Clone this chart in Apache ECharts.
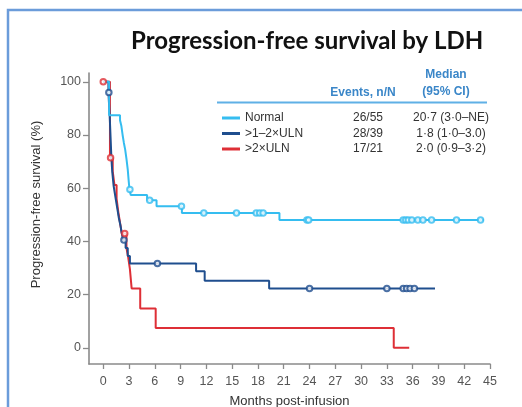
<!DOCTYPE html>
<html>
<head>
<meta charset="utf-8">
<script src="https://cdn.jsdelivr.net/npm/echarts@6/dist/echarts.min.js"></script>
<style>
html,body{margin:0;padding:0;background:#fff;}
#chart{width:522px;height:407px;}
</style>
</head>
<body>
<div id="chart"></div>
<script>
// ---- Data ----
const seriesNames = ['Normal', '>1–2×ULN', '>2×ULN'];
const eventsText = ['26/55', '28/39', '17/21'];
const medianText = ['20·7 (3·0–NE)', '1·8 (1·0–3.0)', '2·0 (0·9–3·2)'];

// Kaplan-Meier steps: time (months) where survival (%) becomes the given value
const normalTimes = [0, 0.68, 1.95, 2.1, 2.25, 2.4, 2.55, 2.7, 2.85, 2.95, 3.05, 3.2, 5.1, 6.2, 9.15, 20.5];
const normalSurv  = [100, 87.4, 85.5, 83.5, 80, 77, 74.5, 71, 67, 63, 59.5, 57.4, 55.5, 53.2, 50.7, 48];
const normalEnd = 44.3;
const normalCensor = [3.1, 5.4, 9.1, 11.7, 15.5, 17.8, 18.2, 18.6, 23.7, 23.9, 34.9, 35.2, 35.5, 35.9, 36.6, 37.2, 38.2, 41.1, 43.9];

const midTimes = [0, 0.6, 0.75, 0.85, 0.95, 1.05, 1.2, 1.35, 1.5, 1.65, 1.8, 2.0, 2.15, 2.3, 2.6, 2.85, 3.1, 10.8, 11.8, 19.3];
const midSurv  = [100, 96, 87, 79, 71, 66, 61, 58, 55, 52, 49, 46, 43, 40.5, 37.5, 34.5, 31.7, 28.8, 25.2, 22.3];
const midEnd = 38.6;
const midCensor = [0.65, 2.4, 6.3, 24.0, 33.0, 34.9, 35.3, 35.7, 36.2];

const highTimes = [0, 0.78, 1.1, 1.3, 1.55, 1.75, 1.95, 2.15, 2.7, 2.9, 3.1, 3.3, 4.3, 6.1, 33.8];
const highSurv  = [100, 71.4, 66.3, 61.2, 56.1, 51, 47, 43, 37.5, 34, 29.6, 22.3, 14.8, 7.4, 0];
const highEnd = 35.6;
const highCensor = [0, 0.85, 2.5];

const xTicks = [0, 3, 6, 9, 12, 15, 18, 21, 24, 27, 30, 33, 36, 39, 42, 45];
const yTicks = [0, 20, 40, 60, 80, 100];

const colors = ['#35bdf0', '#1f4e8e', '#de2f36'];

// ---- Helpers ----
function stepData(ts, ss, end) {
  const d = ts.map((t, i) => [t, ss[i]]);
  d.push([end, ss[ss.length - 1]]);
  return d;
}
function survAt(ts, ss, t) {
  let v = ss[0];
  for (let i = 0; i < ts.length; i++) { if (ts[i] <= t) v = ss[i]; }
  return v;
}
function censorData(ts, ss, cs) {
  return cs.map(t => [t, survAt(ts, ss, t)]);
}

const curves = [
  [normalTimes, normalSurv, normalEnd, normalCensor],
  [midTimes, midSurv, midEnd, midCensor],
  [highTimes, highSurv, highEnd, highCensor]
];

const series = [];
curves.forEach((c, i) => {
  series.push({
    name: seriesNames[i], type: 'line', step: 'end', showSymbol: false, symbol: 'none',
    data: stepData(c[0], c[1], c[2]),
    lineStyle: { color: colors[i], width: 2 }, itemStyle: { color: colors[i] },
    z: 3 - i + 2, animation: false
  });
});
curves.forEach((c, i) => {
  series.push({
    name: seriesNames[i] + ' censored', type: 'scatter',
    symbol: 'emptyCircle', symbolSize: 5.5,
    data: censorData(c[0], c[1], c[3]),
    itemStyle: { color: colors[i], borderColor: colors[i], borderWidth: 1.2, opacity: 0.8 },
    z: 6, animation: false
  });
});

const chart = echarts.init(document.getElementById('chart'), null, { renderer: 'canvas' });
const fontFam = '"Liberation Sans", Arial, sans-serif';
chart.setOption({
  animation: false,
  title: {
    text: 'Progression-free survival by LDH',
    left: 126, top: 24,
    textStyle: { fontFamily: 'Lato, "Open Sans", sans-serif', fontWeight: 'bold', fontSize: 24, color: '#111' }
  },
  grid: { left: 89, right: 32, top: 73, bottom: 43, containLabel: false, outerBoundsMode: 'none' },
  xAxis: {
    type: 'value', min: -1.66, max: 45,
    name: 'Months post-infusion', nameLocation: 'middle', nameGap: 31,
    nameTextStyle: { fontFamily: fontFam, fontSize: 13, color: '#333' },
    axisLine: { show: true, onZero: false, lineStyle: { color: '#8a8a8a', width: 1.6 } },
    axisTick: { show: true, length: 5, customValues: xTicks, lineStyle: { color: '#8a8a8a', width: 1.3 } },
    axisLabel: { customValues: xTicks, fontFamily: fontFam, fontSize: 12.5, color: '#555', margin: 11 },
    splitLine: { show: false }
  },
  yAxis: {
    type: 'value', min: -6.1, max: 103.3,
    name: 'Progression-free survival (%)', nameLocation: 'middle', nameGap: 46,
    nameTextStyle: { fontFamily: fontFam, fontSize: 13, color: '#333', padding: [0, 0, 0, 28] },
    axisLine: { show: true, onZero: false, lineStyle: { color: '#8a8a8a', width: 1.6 } },
    axisTick: { show: true, length: 6, customValues: yTicks, lineStyle: { color: '#8a8a8a', width: 1.3 } },
    axisLabel: { customValues: yTicks, fontFamily: fontFam, fontSize: 12.5, color: '#555', margin: 8 },
    splitLine: { show: false }
  },
  legend: {
    orient: 'vertical', left: 217, top: 106,
    data: seriesNames, icon: 'rect', itemWidth: 18, itemHeight: 3, itemGap: 1.5,
    selectedMode: false,
    formatter: function (name) {
      const i = seriesNames.indexOf(name);
      return '{a|' + name + '}{b|' + eventsText[i] + '}{c|' + medianText[i] + '}';
    },
    textStyle: {
      fontFamily: fontFam, fontSize: 12, color: '#333', lineHeight: 14,
      rich: {
        a: { width: 90, fontFamily: fontFam, fontSize: 12, color: '#333', lineHeight: 14 },
        b: { width: 66, align: 'center', fontFamily: fontFam, fontSize: 12, color: '#333', lineHeight: 14 },
        c: { width: 100, align: 'center', fontFamily: fontFam, fontSize: 12, color: '#333', lineHeight: 14 }
      }
    }
  },
  graphic: [
    { type: 'rect', shape: { x: 8, y: 10, width: 700, height: 600 }, style: { fill: 'none', stroke: '#6b9cda', lineWidth: 2.5 }, silent: true },
    { type: 'line', shape: { x1: 217, y1: 102.5, x2: 487, y2: 102.5 }, style: { stroke: '#5fb0e6', lineWidth: 2 }, silent: true },
    { type: 'text', x: 363, y: 92.5, style: { text: 'Events, n/N', fill: '#3a86c8', font: 'bold 12px "Liberation Sans", Arial, sans-serif', textAlign: 'center', textVerticalAlign: 'middle' }, silent: true },
    { type: 'text', x: 446, y: 75, style: { text: 'Median', fill: '#3a86c8', font: 'bold 12px "Liberation Sans", Arial, sans-serif', textAlign: 'center', textVerticalAlign: 'middle' }, silent: true },
    { type: 'text', x: 446, y: 92, style: { text: '(95% CI)', fill: '#3a86c8', font: 'bold 12px "Liberation Sans", Arial, sans-serif', textAlign: 'center', textVerticalAlign: 'middle' }, silent: true }
  ],
  series: series
});
</script>
</body>
</html>
